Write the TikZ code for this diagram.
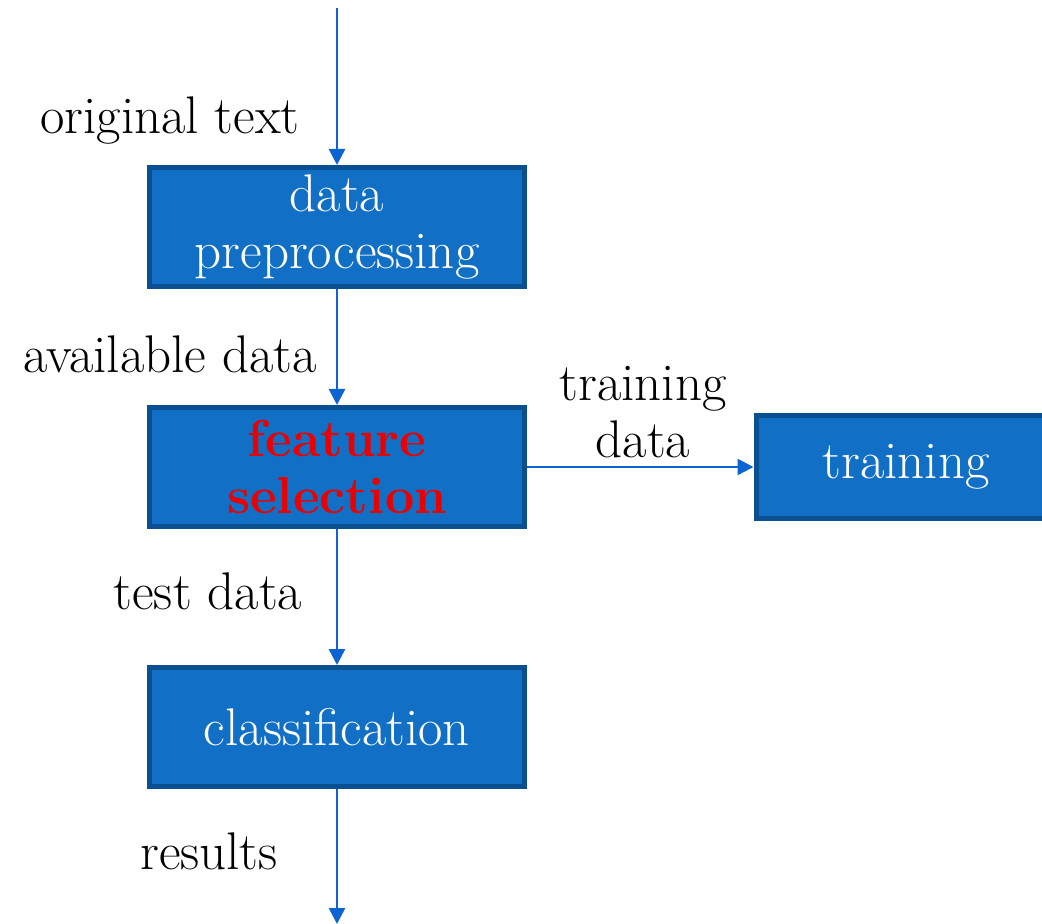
\documentclass[tikz,border=0pt]{standalone}
\usetikzlibrary{arrows.meta}

\definecolor{boxfill}{RGB}{17,112,198}
\definecolor{boxline}{RGB}{10,80,145}
\definecolor{flowblue}{RGB}{12,100,210}
\definecolor{keyred}{RGB}{235,0,0}

\tikzset{
  stage/.style={draw=boxline, line width=2.5pt, fill=boxfill, text=white,
    align=center, minimum width=187.5pt, minimum height=59.5pt,
    font=\fontsize{26.5}{28.5}\selectfont},
  flow/.style={-{Triangle[length=8pt,width=8pt]}, draw=flowblue, line width=1.3pt},
  tag/.style={align=center, font=\fontsize{26.5}{28.5}\selectfont}
}

\begin{document}
\begin{tikzpicture}[x=0.5pt,y=-0.5pt]
                \clip (0,0) rectangle (1042,924);
                \useasboundingbox (0,0) rectangle (1042,924);
                % stages of the pipeline
                \node[stage] (prep) at (337,227) {data\\preprocessing};
                \node[stage,text=keyred,font=\fontsize{26}{28.5}\selectfont\bfseries] (select) at (337,467) {feature\\selection};
                \node[stage,minimum width=150pt,minimum height=51.5pt] (train) at (906,467) {training};
                \node[stage] (classify) at (337,727) {classification};
                % loose ends
                \coordinate (in) at (337,8);
                \coordinate (out) at (337,924);
                % flow
                \draw[flow] (in) -- (prep);
                \draw[flow] (prep) -- (select);
                \draw[flow] (select) -- (train);
                \draw[flow] (select) -- (classify);
                \draw[flow] (classify) -- (out);
                % labels
                \node[tag] (origtxt) at (170,121) {original text};
                \node[tag] (avail) at (170,354) {available data};
                \node[tag] (traindata) at (643,412) {training\\data};
                \node[tag] (testdata) at (208,591) {test data};
                \node[tag] (results) at (209,851) {results};
\end{tikzpicture}
\end{document}
